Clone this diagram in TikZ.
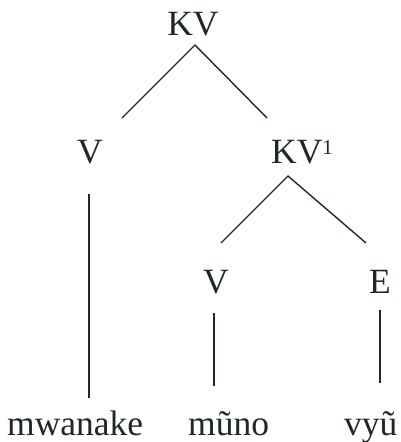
\documentclass[tikz,border=0pt]{standalone}
\usepackage{fontspec}
\setmainfont{Liberation Serif}
\definecolor{ink}{HTML}{1E2926}
\tikzset{
  lab/.style={anchor=base, inner sep=0pt, text=ink, font=\fontsize{35.5}{35.5}\selectfont},
  br/.style={draw=ink, line width=1.4pt}
}
\begin{document}
\begin{tikzpicture}[x=1pt,y=-1pt]
\useasboundingbox (0,0) rectangle (400,442);
% labels
\node[lab] (kv) at (193,35) {KV};
\node[lab] (v1) at (90,163) {V};
\node[lab, anchor=base west] (kv1) at (271,163) {KV\raisebox{9pt}{\fontsize{21}{21}\selectfont 1}};
\node[lab] (v2) at (216,293) {V};
\node[lab] (e) at (380,293) {E};
\node[lab, anchor=base west] (w1) at (7,435) {mwanake};
\node[lab, anchor=base west] (w2) at (188,435) {mũno};
\node[lab, anchor=base west] (w3) at (344,435) {vyũ};
% branch points
\coordinate (a1) at (195,45);
\coordinate (a1l) at (122,118);
\coordinate (a1r) at (267,118);
\coordinate (a2) at (288,176);
\coordinate (a2l) at (221,243);
\coordinate (a2r) at (366,243);
\coordinate (t1) at (89,194);
\coordinate (b1) at (89,398);
\coordinate (t2) at (214,313);
\coordinate (b2) at (214,386);
\coordinate (t3) at (380,310);
\coordinate (b3) at (380,383);
% connectors
\draw[br] (a1l) -- (a1) -- (a1r);
\draw[br] (a2l) -- (a2) -- (a2r);
\draw[br] (t1) -- (b1);
\draw[br] (t2) -- (b2);
\draw[br] (t3) -- (b3);
\end{tikzpicture}
\end{document}
